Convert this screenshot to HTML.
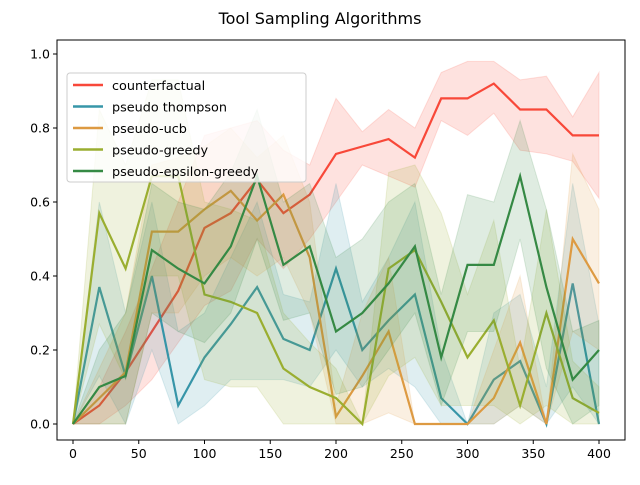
<!DOCTYPE html>
<html><head><meta charset="utf-8"><style>body{margin:0;background:#fff}svg{font-family:"DejaVu Sans","Liberation Sans",sans-serif}</style></head>
<body>
<svg id="chart" width="640" height="480" xmlns="http://www.w3.org/2000/svg">
<text x="320" y="24" text-anchor="middle" font-size="16">Tool Sampling Algorithms</text>
<g id="plot"></g>
</svg>
<script>
const xs=[0,20,40,60,80,100,120,140,160,180,200,220,240,260,280,300,320,340,360,380,400];
const xTicks=[0,50,100,150,200,250,300,350,400];
const yTicks=[0.0,0.2,0.4,0.6,0.8,1.0];
const seriesNames=["counterfactual","pseudo thompson","pseudo-ucb","pseudo-greedy","pseudo-epsilon-greedy"];
const cfVals=[0,0.05,0.14,0.25,0.36,0.53,0.57,0.66,0.57,0.62,0.73,0.75,0.77,0.72,0.88,0.88,0.92,0.85,0.85,0.78,0.78];
const cfLo=[0,0,0.05,0.12,0.22,0.32,0.36,0.5,0.42,0.5,0.6,0.7,0.67,0.64,0.82,0.78,0.84,0.74,0.73,0.71,0.61];
const cfHi=[0,0.1,0.25,0.42,0.6,0.78,0.8,0.82,0.74,0.7,0.88,0.79,0.85,0.8,0.95,0.98,0.98,0.93,0.94,0.83,0.95];
const thVals=[0,0.37,0.13,0.4,0.05,0.18,0.27,0.37,0.23,0.2,0.42,0.2,0.28,0.35,0.07,0,0.12,0.17,0,0.38,0];
const thLo=[0,0.13,0,0.2,0,0.05,0.12,0.12,0.12,0.1,0.2,0.1,0.15,0.1,0,0,0,0.05,0,0.1,0];
const thHi=[0,0.6,0.3,0.6,0.25,0.3,0.45,0.6,0.35,0.33,0.65,0.33,0.45,0.6,0.2,0,0.3,0.35,0.1,0.65,0.27];
const ucbVals=[0,0.07,0.14,0.52,0.52,0.58,0.63,0.55,0.62,0.45,0.02,0.13,0.25,0,0,0,0.07,0.22,0,0.5,0.38];
const ucbLo=[0,0,0,0.3,0.3,0.4,0.45,0.4,0.45,0.3,0,0,0.03,0,0,0,0,0.05,0,0.25,0.2];
const ucbHi=[0,0.15,0.3,0.7,0.72,0.75,0.8,0.72,0.78,0.6,0.05,0.3,0.45,0,0,0,0.2,0.4,0,0.73,0.58];
const grVals=[0,0.57,0.42,0.67,0.67,0.35,0.33,0.3,0.15,0.1,0.07,0,0.42,0.47,0.33,0.18,0.28,0.05,0.3,0.07,0.03];
const grLo=[0,0.27,0.12,0.4,0.4,0.12,0.1,0.1,0,0,0,0,0.13,0.18,0.05,0.05,0.05,0,0.05,0,0];
const grHi=[0,0.85,0.7,0.93,0.93,0.6,0.58,0.55,0.3,0.22,0.15,0,0.68,0.7,0.57,0.35,0.55,0.15,0.58,0.17,0.1];
const epVals=[0,0.1,0.13,0.47,0.42,0.38,0.48,0.67,0.43,0.48,0.25,0.3,0.38,0.48,0.18,0.43,0.43,0.67,0.37,0.12,0.2];
const epLo=[0,0,0,0.3,0.25,0.22,0.3,0.5,0.28,0.3,0.08,0.1,0.2,0.3,0.05,0.25,0.25,0.5,0.15,0,0.05];
const epHi=[0,0.2,0.3,0.65,0.6,0.58,0.68,0.85,0.6,0.65,0.45,0.5,0.6,0.65,0.35,0.62,0.6,0.82,0.58,0.25,0.28];
const colors=["#f8483a","#3796a8","#dd9a42","#9aae30","#358a44"];
const allVals=[cfVals,thVals,ucbVals,grVals,epVals];
const allLo=[cfLo,thLo,ucbLo,grLo,epLo];
const allHi=[cfHi,thHi,ucbHi,grHi,epHi];
const NS="http://www.w3.org/2000/svg";
const L=57,R=625,T=40,B=440;
function X(v){return 73+(v/400)*526;}
function Y(v){return 424-v*370;}
const g=document.getElementById('plot');
function mk(t,a){const e=document.createElementNS(NS,t);for(const k in a)e.setAttribute(k,a[k]);g.appendChild(e);return e;}
for(let s=0;s<5;s++){
  let d="";xs.forEach((x,i)=>{d+=(i?"L":"M")+X(x)+","+Y(allVals[s][i]);});
  const ln=mk('path',{d:d,fill:"none",stroke:colors[s],"stroke-width":2.2,"stroke-linejoin":"miter"});
  
  
  let p="";xs.forEach((x,i)=>{p+=(i?"L":"M")+X(x)+","+Y(allHi[s][i]);});
  for(let i=xs.length-1;i>=0;i--)p+="L"+X(xs[i])+","+Y(allLo[s][i]);
  const bd=mk('path',{d:p+"Z",fill:colors[s],"fill-opacity":0.16,stroke:colors[s],"stroke-opacity":0.16});
  
  
}
const fr=mk('rect',{x:L,y:T,width:R-L,height:B-T,fill:"none",stroke:"#000","stroke-width":1});


xTicks.forEach(v=>{
  const t=mk('line',{x1:X(v),x2:X(v),y1:B,y2:B+4,stroke:"#000"});
  
  
  const tx=mk('text',{x:X(v),y:B+18,"text-anchor":"middle","font-size":"12.5"});tx.textContent=v;
  
  
});
yTicks.forEach(v=>{
  const t=mk('line',{x1:L-4,x2:L,y1:Y(v),y2:Y(v),stroke:"#000"});
  
  
  const tx=mk('text',{x:L-7,y:Y(v)+4.5,"text-anchor":"end","font-size":"12.5"});tx.textContent=v.toFixed(1);
  
  
});
const lg=mk('rect',{x:67,y:73,width:239,height:109,rx:3,fill:"#fff","fill-opacity":0.8,stroke:"#ccc"});


seriesNames.forEach((n,i)=>{
  const y=85+i*21.5;
  const l=mk('line',{x1:73,x2:103,y1:y,y2:y,stroke:colors[i],"stroke-width":2.5});
  
  
  const t=mk('text',{x:112,y:y+5,"font-size":"12.8"});t.textContent=n;
  
  
});
</script>
</body></html>
